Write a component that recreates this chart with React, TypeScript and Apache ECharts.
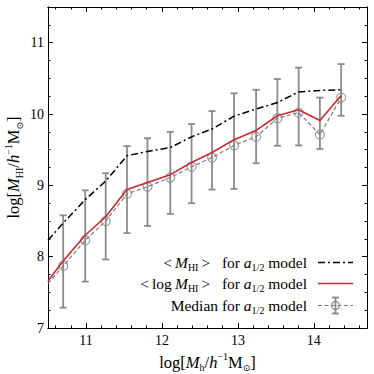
import React, { useEffect, useRef } from "react";
import * as echarts from "echarts";

// ---- data ----
const haloMass = [10.70, 10.99, 11.26, 11.54, 11.81, 12.11, 12.39, 12.66, 12.95, 13.24, 13.52, 13.80, 14.08, 14.36];
const medianHI = [7.87, 8.23, 8.50, 8.88, 8.98, 9.11, 9.26, 9.39, 9.56, 9.68, 9.94, 10.02, 9.71, 10.23];
const medianUpper = [8.58, 8.93, 9.17, 9.55, 9.66, 9.75, 9.86, 10.04, 10.29, 10.34, 10.49, 10.65, 10.23, 10.70];
const medianLower = [7.285, 7.65, 7.96, 8.33, 8.43, 8.60, 8.75, 8.94, 8.95, 9.31, 9.555, 9.56, 9.51, 9.975];
const meanLogHI = [7.94, 8.30, 8.56, 8.94, 9.04, 9.15, 9.32, 9.46, 9.64, 9.77, 9.975, 10.06, 9.91, 10.26];
const logMeanHI = [8.47, 8.80, 9.06, 9.415, 9.475, 9.53, 9.68, 9.79, 9.97, 10.07, 10.16, 10.31, 10.33, 10.34];
// values where the lines leave the plot at its left edge
const edgeMass = 10.5;
const edgeLogMean = 8.23;
const edgeMeanLog = 7.66;
const edgeMedian = 7.625;

const xRange = [10.5, 14.7];
const yRange = [7, 11.5];
const xMajorTicks = [11, 12, 13, 14];
const yMajorTicks = [7, 8, 9, 10, 11];
const xMinorStep = 0.2;
const yMinorStep = 0.25;

const legendLabels = [
  "{n|<\u2009}{i|M}{s|HI}{n|\u2009>   for }{i|a}{s|1/2}{n| model}",
  "{n|<\u2009log\u2009}{i|M}{s|HI}{n|\u2009>   for }{i|a}{s|1/2}{n| model}",
  "{n|Median for }{i|a}{s|1/2}{n| model}",
];
const xTitle = "{n|log[}{i|M}{s|h}{n|/}{i|h}{p|−1}{n|M}{o|⊙}{n|]}";
const yTitle = "{n|log[}{i|M}{s|HI}{n|/}{i|h}{p|−1}{n|M}{o|⊙}{n|]}";

const FONT = "'Liberation Serif','DejaVu Serif',serif";
const SYMFONT = "'DejaVu Sans',sans-serif";
const RED = "#c9282d";
const ERR = "#8a8a8a";
const MED = "#7a7a7a";

function minorTicks(min: number, max: number, step: number, majors: number[]) {
  const out: number[] = [];
  const lo = Math.ceil(min / step - 1e-6);
  const hi = Math.floor(max / step + 1e-6);
  for (let i = lo; i <= hi; i++) {
    const v = Math.round(i * step * 1000) / 1000;
    if (!majors.some((m) => Math.abs(m - v) < 1e-6)) out.push(v);
  }
  return out;
}

function richStyles(size: number, subRatio = 0.66) {
  const sub = Math.round(size * subRatio);
  return {
    n: { fontFamily: FONT, fontSize: size, lineHeight: size + 4, color: "#000", verticalAlign: "middle" },
    i: { fontFamily: FONT, fontSize: size, lineHeight: size + 4, color: "#000", fontStyle: "italic", verticalAlign: "middle" },
    s: { fontFamily: FONT, fontSize: sub, lineHeight: sub, color: "#000", verticalAlign: "bottom" },
    p: { fontFamily: FONT, fontSize: sub, lineHeight: sub, color: "#000", verticalAlign: "top" },
    o: { fontFamily: SYMFONT, fontSize: sub - 1, lineHeight: sub - 1, color: "#000", verticalAlign: "bottom" },
  };
}

function axis(kind: "x" | "y", position: string, gridIndex: number, ticks: number[], len: number, withLabels: boolean, range: number[], extra: any = {}) {
  return {
    type: "value",
    gridIndex,
    position,
    min: range[0],
    max: range[1],
    axisLine: { show: true, onZero: false, lineStyle: { color: "#000", width: 1 } },
    axisTick: { show: true, inside: true, length: len, customValues: ticks, lineStyle: { color: "#000", width: 1 } },
    axisLabel: withLabels
      ? {
          show: true,
          customValues: ticks,
          color: "#000",
          fontFamily: FONT,
          fontSize: 14,
          margin: kind === "x" ? 5 : 4,
        }
      : { show: false },
    splitLine: { show: false },
    minorTick: { show: false },
    ...extra,
  };
}

export default function App() {
  const ref = useRef<HTMLDivElement>(null);

  useEffect(() => {
    document.body.style.margin = "0";
    if (!ref.current) return;
    const chart = echarts.init(ref.current, null, { renderer: "svg" });

    const xMinor = minorTicks(xRange[0], xRange[1], xMinorStep, xMajorTicks);
    const yMinor = minorTicks(yRange[0], yRange[1], yMinorStep, yMajorTicks);
    const gridBox = { left: 48, right: 7, top: 7, bottom: 46, containLabel: false, outerBoundsMode: "none" };
    // a taller, label-only grid so the lowest y label is not pushed inside the frame
    const plotH = 374 - gridBox.top - gridBox.bottom;
    const pxPerUnit = plotH / (yRange[1] - yRange[0]);
    const padUnits = 0.5;
    const labelGrid = { ...gridBox, bottom: gridBox.bottom - padUnits * pxPerUnit };

    const legendX0 = 318;
    const legendX1 = 353;
    const rowY = [262.5, 283.5, 305.5];
    const textRight = 307;

    const legendGraphics: any[] = [];
    legendLabels.forEach((lab, k) => {
      legendGraphics.push({
        type: "text",
        x: textRight,
        y: rowY[k],
        style: { text: lab, align: "right", verticalAlign: "middle", rich: richStyles(15.5) },
      });
    });
    legendGraphics.push({
      type: "line",
      shape: { x1: legendX0, y1: rowY[0], x2: legendX1, y2: rowY[0] },
      style: { stroke: "#000", lineWidth: 1.5, lineDash: [7, 3, 2, 3] },
    });
    legendGraphics.push({
      type: "line",
      shape: { x1: legendX0, y1: rowY[1], x2: legendX1, y2: rowY[1] },
      style: { stroke: RED, lineWidth: 1.6 },
    });
    const cx = (legendX0 + legendX1) / 2;
    legendGraphics.push({
      type: "line",
      shape: { x1: legendX0, y1: rowY[2], x2: legendX1, y2: rowY[2] },
      style: { stroke: MED, lineWidth: 1.2, lineDash: [4, 2.5] },
    });
    legendGraphics.push({
      type: "line",
      shape: { x1: cx, y1: rowY[2] - 8, x2: cx, y2: rowY[2] + 8 },
      style: { stroke: ERR, lineWidth: 1.8 },
    });
    legendGraphics.push({
      type: "line",
      shape: { x1: cx - 3.5, y1: rowY[2] - 8, x2: cx + 3.5, y2: rowY[2] - 8 },
      style: { stroke: ERR, lineWidth: 1.8 },
    });
    legendGraphics.push({
      type: "line",
      shape: { x1: cx - 3.5, y1: rowY[2] + 8, x2: cx + 3.5, y2: rowY[2] + 8 },
      style: { stroke: ERR, lineWidth: 1.8 },
    });
    legendGraphics.push({
      type: "circle",
      shape: { cx, cy: rowY[2], r: 4 },
      style: { fill: "none", stroke: ERR, lineWidth: 1.2 },
    });

    const option: any = {
      animation: false,
      backgroundColor: "#fff",
      grid: [{ ...gridBox }, { ...gridBox }, { ...labelGrid }],
      xAxis: [
        axis("x", "bottom", 0, xMajorTicks, 5, true, xRange, {
          name: xTitle,
          nameLocation: "middle",
          nameGap: 18,
          nameTextStyle: { rich: richStyles(16.5, 0.6) },
        }),
        axis("x", "top", 0, xMajorTicks, 5, false, xRange),
        axis("x", "bottom", 1, xMinor, 2.5, false, xRange),
        axis("x", "top", 1, xMinor, 2.5, false, xRange),
        { type: "value", gridIndex: 2, show: false, min: xRange[0], max: xRange[1] },
      ],
      yAxis: [
        axis("y", "left", 0, yMajorTicks, 5, false, yRange, {
          name: yTitle,
          nameLocation: "middle",
          nameGap: 24,
          nameTextStyle: { rich: richStyles(16.5, 0.6) },
        }),
        axis("y", "right", 0, yMajorTicks, 5, false, yRange),
        axis("y", "left", 1, yMinor, 2.5, false, yRange),
        axis("y", "right", 1, yMinor, 2.5, false, yRange),
        {
          type: "value",
          gridIndex: 2,
          position: "left",
          min: yRange[0] - padUnits,
          max: yRange[1],
          axisLine: { show: false },
          axisTick: { show: false },
          splitLine: { show: false },
          axisLabel: {
            show: true,
            customValues: yMajorTicks,
            color: "#000",
            fontFamily: FONT,
            fontSize: 14,
            margin: 4,
          },
        },
      ],
      series: [
        {
          type: "custom",
          name: "err",
          xAxisIndex: 0,
          yAxisIndex: 0,
          z: 2,
          data: haloMass.map((x, i) => [x, medianLower[i], medianUpper[i]]),
          encode: { x: 0, y: [1, 2] },
          renderItem: (_params: any, api: any) => {
            const x = api.value(0);
            const lo = api.coord([x, api.value(1)]);
            const hi = api.coord([x, api.value(2)]);
            const cap = 3.5;
            const style = { stroke: ERR, lineWidth: 1.8, fill: "none" };
            return {
              type: "group",
              children: [
                { type: "line", shape: { x1: hi[0], y1: hi[1], x2: lo[0], y2: lo[1] }, style },
                { type: "line", shape: { x1: hi[0] - cap, y1: hi[1], x2: hi[0] + cap, y2: hi[1] }, style },
                { type: "line", shape: { x1: lo[0] - cap, y1: lo[1], x2: lo[0] + cap, y2: lo[1] }, style },
              ],
            };
          },
        },
        {
          type: "line",
          name: "median",
          xAxisIndex: 0,
          yAxisIndex: 0,
          z: 3,
          showSymbol: false,
          clip: true,
          data: [[edgeMass, edgeMedian], ...haloMass.map((x, i) => [x, medianHI[i]])],
          lineStyle: { color: MED, width: 1.2, type: [4, 2.5] },
        },
        {
          type: "scatter",
          name: "medianPts",
          xAxisIndex: 0,
          yAxisIndex: 0,
          z: 4,
          symbol: "circle",
          symbolSize: 9,
          data: haloMass.map((x, i) => [x, medianHI[i]]),
          itemStyle: { color: "rgba(0,0,0,0)", borderColor: ERR, borderWidth: 1.2 },
        },
        {
          type: "line",
          name: "meanLog",
          xAxisIndex: 0,
          yAxisIndex: 0,
          z: 5,
          showSymbol: false,
          data: [[edgeMass, edgeMeanLog], ...haloMass.map((x, i) => [x, meanLogHI[i]])],
          lineStyle: { color: RED, width: 1.6 },
        },
        {
          type: "line",
          name: "logMean",
          xAxisIndex: 0,
          yAxisIndex: 0,
          z: 6,
          showSymbol: false,
          data: [[edgeMass, edgeLogMean], ...haloMass.map((x, i) => [x, logMeanHI[i]])],
          lineStyle: { color: "#000", width: 1.5, type: [7, 3, 2, 3] },
        },
      ],
      graphic: legendGraphics,
    };

    chart.setOption(option);
    return () => chart.dispose();
  }, []);

  return <div ref={ref} style={{ width: 374, height: 374 }} />;
}
